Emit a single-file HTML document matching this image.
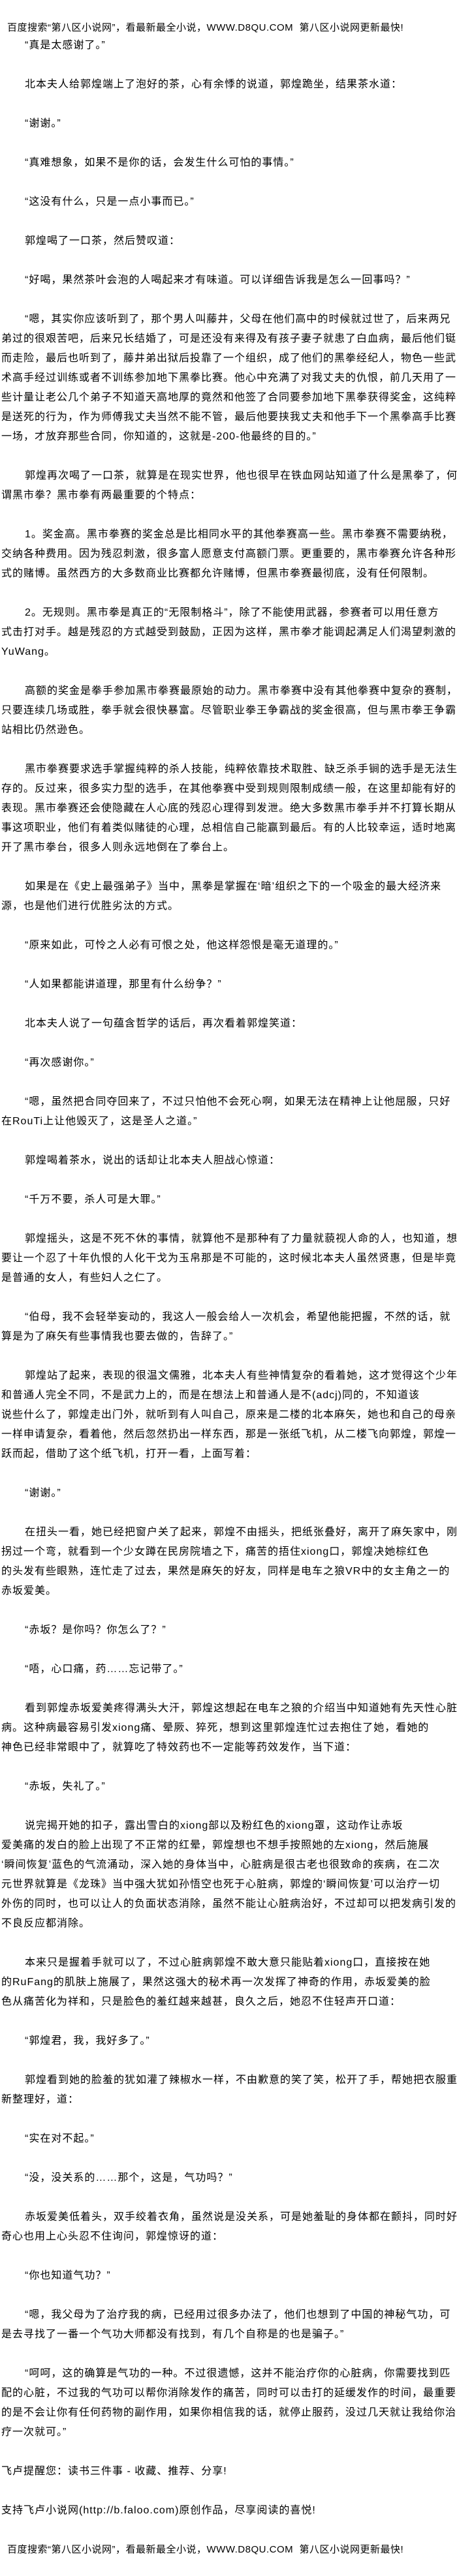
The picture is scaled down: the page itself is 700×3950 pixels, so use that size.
<!DOCTYPE html>
<html lang="zh-CN">
<head>
<meta charset="utf-8">
<style>
html,body{margin:0;padding:0;background:#fff;}
body{width:700px;height:3950px;position:relative;overflow:hidden;color:#000;
font-family:"Liberation Sans","Noto Sans CJK SC","WenQuanYi Zen Hei",sans-serif;}
.hd{position:absolute;left:11px;font-size:15px;line-height:30px;white-space:nowrap;letter-spacing:0.5px;}
#c{position:absolute;left:2px;top:55px;width:698px;font-size:16px;letter-spacing:1px;}
#c div{height:30px;line-height:30px;white-space:nowrap;}
#c div.i{padding-left:36px;}
</style>
</head>
<body>
<div class="hd" style="top:28px">百度搜索“第八区小说网”，看最新最全小说，WWW.D8QU.COM&nbsp;&nbsp;第八区小说网更新最快!</div>
<div id="c">
<div class="i">“真是太感谢了。”</div><div></div>
<div class="i">北本夫人给郭煌端上了泡好的茶，心有余悸的说道，郭煌跪坐，结果茶水道：</div><div></div>
<div class="i">“谢谢。”</div><div></div>
<div class="i">“真难想象，如果不是你的话，会发生什么可怕的事情。”</div><div></div>
<div class="i">“这没有什么，只是一点小事而已。”</div><div></div>
<div class="i">郭煌喝了一口茶，然后赞叹道：</div><div></div>
<div class="i">“好喝，果然茶叶会泡的人喝起来才有味道。可以详细告诉我是怎么一回事吗？”</div><div></div>
<div class="i">“嗯，其实你应该听到了，那个男人叫藤井，父母在他们高中的时候就过世了，后来两兄</div>
<div>弟过的很艰苦吧，后来兄长结婚了，可是还没有来得及有孩子妻子就患了白血病，最后他们铤</div>
<div>而走险，最后也听到了，藤井弟出狱后投靠了一个组织，成了他们的黑拳经纪人，物色一些武</div>
<div>术高手经过训练或者不训练参加地下黑拳比赛。他心中充满了对我丈夫的仇恨，前几天用了一</div>
<div>些计量让老公几个弟子不知道天高地厚的竟然和他签了合同要参加地下黑拳获得奖金，这纯粹</div>
<div>是送死的行为，作为师傅我丈夫当然不能不管，最后他要挟我丈夫和他手下一个黑拳高手比赛</div>
<div>一场，才放弃那些合同，你知道的，这就是-200-他最终的目的。”</div><div></div>
<div class="i">郭煌再次喝了一口茶，就算是在现实世界，他也很早在铁血网站知道了什么是黑拳了，何</div>
<div>谓黑市拳？黑市拳有两最重要的个特点：</div><div></div>
<div class="i">1。奖金高。黑市拳赛的奖金总是比相同水平的其他拳赛高一些。黑市拳赛不需要纳税，</div>
<div>交纳各种费用。因为残忍刺激，很多富人愿意支付高额门票。更重要的，黑市拳赛允许各种形</div>
<div>式的赌博。虽然西方的大多数商业比赛都允许赌博，但黑市拳赛最彻底，没有任何限制。</div><div></div>
<div class="i">2。无规则。黑市拳是真正的“无限制格斗”，除了不能使用武器，参赛者可以用任意方</div>
<div>式击打对手。越是残忍的方式越受到鼓励，正因为这样，黑市拳才能调起满足人们渴望刺激的</div>
<div>YuWang。</div><div></div>
<div class="i">高额的奖金是拳手参加黑市拳赛最原始的动力。黑市拳赛中没有其他拳赛中复杂的赛制，</div>
<div>只要连续几场或胜，拳手就会很快暴富。尽管职业拳王争霸战的奖金很高，但与黑市拳王争霸</div>
<div>站相比仍然逊色。</div><div></div>
<div class="i">黑市拳赛要求选手掌握纯粹的杀人技能，纯粹依靠技术取胜、缺乏杀手锏的选手是无法生</div>
<div>存的。反过来，很多实力型的选手，在其他拳赛中受到规则限制成绩一般，在这里却能有好的</div>
<div>表现。黑市拳赛还会使隐藏在人心底的残忍心理得到发泄。绝大多数黑市拳手并不打算长期从</div>
<div>事这项职业，他们有着类似赌徒的心理，总相信自己能赢到最后。有的人比较幸运，适时地离</div>
<div>开了黑市拳台，很多人则永远地倒在了拳台上。</div><div></div>
<div class="i">如果是在《史上最强弟子》当中，黑拳是掌握在‘暗’组织之下的一个吸金的最大经济来</div>
<div>源，也是他们进行优胜劣汰的方式。</div><div></div>
<div class="i">“原来如此，可怜之人必有可恨之处，他这样怨恨是毫无道理的。”</div><div></div>
<div class="i">“人如果都能讲道理，那里有什么纷争？”</div><div></div>
<div class="i">北本夫人说了一句蕴含哲学的话后，再次看着郭煌笑道：</div><div></div>
<div class="i">“再次感谢你。”</div><div></div>
<div class="i">“嗯，虽然把合同夺回来了，不过只怕他不会死心啊，如果无法在精神上让他屈服，只好</div>
<div>在RouTi上让他毁灭了，这是圣人之道。”</div><div></div>
<div class="i">郭煌喝着茶水，说出的话却让北本夫人胆战心惊道：</div><div></div>
<div class="i">“千万不要，杀人可是大罪。”</div><div></div>
<div class="i">郭煌摇头，这是不死不休的事情，就算他不是那种有了力量就藐视人命的人，也知道，想</div>
<div>要让一个忍了十年仇恨的人化干戈为玉帛那是不可能的，这时候北本夫人虽然贤惠，但是毕竟</div>
<div>是普通的女人，有些妇人之仁了。</div><div></div>
<div class="i">“伯母，我不会轻举妄动的，我这人一般会给人一次机会，希望他能把握，不然的话，就</div>
<div>算是为了麻矢有些事情我也要去做的，告辞了。”</div><div></div>
<div class="i">郭煌站了起来，表现的很温文儒雅，北本夫人有些神情复杂的看着她，这才觉得这个少年</div>
<div>和普通人完全不同，不是武力上的，而是在想法上和普通人是不(adcj)同的，不知道该</div>
<div>说些什么了，郭煌走出门外，就听到有人叫自己，原来是二楼的北本麻矢，她也和自己的母亲</div>
<div>一样申请复杂，看着他，然后忽然扔出一样东西，那是一张纸飞机，从二楼飞向郭煌，郭煌一</div>
<div>跃而起，借助了这个纸飞机，打开一看，上面写着：</div><div></div>
<div class="i">“谢谢。”</div><div></div>
<div class="i">在扭头一看，她已经把窗户关了起来，郭煌不由摇头，把纸张叠好，离开了麻矢家中，刚</div>
<div>拐过一个弯，就看到一个少女蹲在民房院墙之下，痛苦的捂住xiong口，郭煌决她棕红色</div>
<div>的头发有些眼熟，连忙走了过去，果然是麻矢的好友，同样是电车之狼VR中的女主角之一的</div>
<div>赤坂爱美。</div><div></div>
<div class="i">“赤坂？是你吗？你怎么了？”</div><div></div>
<div class="i">“唔，心口痛，药……忘记带了。”</div><div></div>
<div class="i">看到郭煌赤坂爱美疼得满头大汗，郭煌这想起在电车之狼的介绍当中知道她有先天性心脏</div>
<div>病。这种病最容易引发xiong痛、晕厥、猝死，想到这里郭煌连忙过去抱住了她，看她的</div>
<div>神色已经非常眼中了，就算吃了特效药也不一定能等药效发作，当下道：</div><div></div>
<div class="i">“赤坂，失礼了。”</div><div></div>
<div class="i">说完揭开她的扣子，露出雪白的xiong部以及粉红色的xiong罩，这动作让赤坂</div>
<div>爱美痛的发白的脸上出现了不正常的红晕，郭煌想也不想手按照她的左xiong，然后施展</div>
<div>‘瞬间恢复’蓝色的气流涌动，深入她的身体当中，心脏病是很古老也很致命的疾病，在二次</div>
<div>元世界就算是《龙珠》当中强大犹如孙悟空也死于心脏病，郭煌的‘瞬间恢复’可以治疗一切</div>
<div>外伤的同时，也可以让人的负面状态消除，虽然不能让心脏病治好，不过却可以把发病引发的</div>
<div>不良反应都消除。</div><div></div>
<div class="i">本来只是握着手就可以了，不过心脏病郭煌不敢大意只能贴着xiong口，直接按在她</div>
<div>的RuFang的肌肤上施展了，果然这强大的秘术再一次发挥了神奇的作用，赤坂爱美的脸</div>
<div>色从痛苦化为祥和，只是脸色的羞红越来越甚，良久之后，她忍不住轻声开口道：</div><div></div>
<div class="i">“郭煌君，我，我好多了。”</div><div></div>
<div class="i">郭煌看到她的脸羞的犹如灌了辣椒水一样，不由歉意的笑了笑，松开了手，帮她把衣服重</div>
<div>新整理好，道：</div><div></div>
<div class="i">“实在对不起。”</div><div></div>
<div class="i">“没，没关系的……那个，这是，气功吗？”</div><div></div>
<div class="i">赤坂爱美低着头，双手绞着衣角，虽然说是没关系，可是她羞耻的身体都在颤抖，同时好</div>
<div>奇心也用上心头忍不住询问，郭煌惊讶的道：</div><div></div>
<div class="i">“你也知道气功？”</div><div></div>
<div class="i">“嗯，我父母为了治疗我的病，已经用过很多办法了，他们也想到了中国的神秘气功，可</div>
<div>是去寻找了一番一个气功大师都没有找到，有几个自称是的也是骗子。”</div><div></div>
<div class="i">“呵呵，这的确算是气功的一种。不过很遗憾，这并不能治疗你的心脏病，你需要找到匹</div>
<div>配的心脏，不过我的气功可以帮你消除发作的痛苦，同时可以击打的延缓发作的时间，最重要</div>
<div>的是不会让你有任何药物的副作用，如果你相信我的话，就停止服药，没过几天就让我给你治</div>
<div>疗一次就可。”</div><div></div>
<div>飞卢提醒您：读书三件事 - 收藏、推荐、分享!</div><div></div>
<div>支持飞卢小说网(http://b.faloo.com)原创作品，尽享阅读的喜悦!</div><div></div>
</div>
<div class="hd" style="top:3895px">百度搜索“第八区小说网”，看最新最全小说，WWW.D8QU.COM&nbsp;&nbsp;第八区小说网更新最快!</div>
</body>
</html>
